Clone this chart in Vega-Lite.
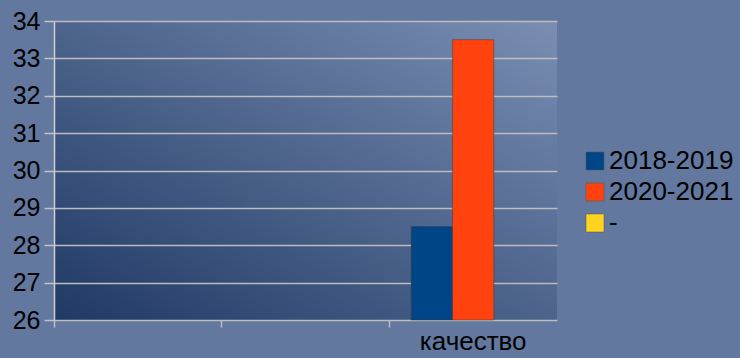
{
  "$schema": "https://vega.github.io/schema/vega-lite/v6.json",
  "width": 503,
  "height": 299,
  "autosize": "none",
  "padding": {"left": 54, "top": 21, "right": 183, "bottom": 38},
  "background": "#62789f",
  "config": {
    "view": {
      "stroke": null,
      "fill": {
        "gradient": "linear",
        "x1": 0, "y1": 1, "x2": 1, "y2": 0,
        "stops": [
          {"offset": 0, "color": "#203965"},
          {"offset": 1, "color": "#7a8eb3"}
        ]
      }
    },
    "font": "Liberation Sans"
  },
  "data": {
    "values": [
      {"cat": "качество", "series": "2018-2019", "value": 28.5},
      {"cat": "качество", "series": "2020-2021", "value": 33.5}
    ]
  },
  "mark": {"type": "bar", "stroke": "#3a3a3a", "strokeWidth": 0.8, "strokeOpacity": 0.6},
  "encoding": {
    "x": {
      "field": "cat",
      "type": "nominal",
      "scale": {"domain": ["c1", "c2", "качество"], "paddingInner": 0, "paddingOuter": 0},
      "axis": {
        "title": null,
        "bandPosition": 0,
        "labelExpr": "datum.value == 'качество' ? datum.value : ''",
        "labelOffset": 0,
        "labelAngle": 0,
        "labelFont": "Liberation Sans",
        "labelFontSize": 26,
        "labelColor": "#000000",
        "labelPadding": 1,
        "tickSize": 7,
        "tickColor": "#bdbdbd",
        "tickWidth": 1.5,
        "domain": false,
        "grid": false
      }
    },
    "xOffset": {
      "field": "series",
      "type": "nominal",
      "scale": {"domain": ["2018-2019", "2020-2021", "-"], "paddingOuter": 0.53, "paddingInner": 0}
    },
    "y": {
      "field": "value",
      "type": "quantitative",
      "scale": {"domain": [26, 34], "zero": false, "nice": false},
      "axis": {
        "title": null,
        "values": [26, 27, 28, 29, 30, 31, 32, 33, 34],
        "labelFont": "Liberation Sans",
        "labelFontSize": 25,
        "labelColor": "#000000",
        "labelPadding": 4,
        "tickSize": 10,
        "tickColor": "#c4c4c4",
        "tickWidth": 1.5,
        "domainColor": "#d0d0d0",
        "domainWidth": 1.5,
        "gridColor": "#bdbdbd",
        "gridWidth": 1.5,
        "gridOpacity": 1
      }
    },
    "y2": {"datum": 26},
    "color": {
      "field": "series",
      "type": "nominal",
      "scale": {"domain": ["2018-2019", "2020-2021", "-"], "range": ["#004586", "#ff420e", "#ffd320"]},
      "legend": {
        "title": null,
        "orient": "none",
        "legendX": 528,
        "legendY": 127,
        "symbolType": "square",
        "symbolSize": 324,
        "symbolStrokeColor": "#555555",
        "symbolStrokeWidth": 0.5,
        "labelFont": "Liberation Sans",
        "labelFontSize": 26,
        "labelColor": "#000000",
        "labelOffset": 1,
        "rowPadding": 5,
        "padding": 0
      }
    }
  }
}
